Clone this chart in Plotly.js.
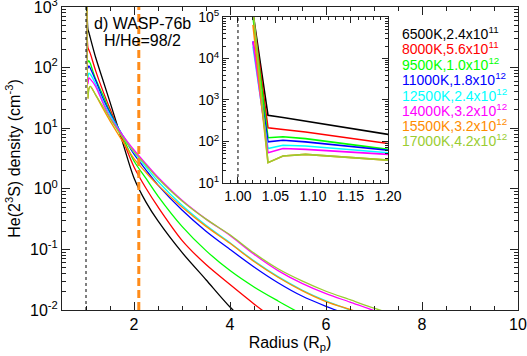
<!DOCTYPE html>
<html><head><meta charset="utf-8">
<script src="https://cdn.plot.ly/plotly-3.0.1.min.js"></script>
<style>html,body{margin:0;padding:0;background:#fff}#chart{width:527px;height:356px}</style>
</head><body><div id="chart"></div>
<script>
// Radius grid (R_p)
const radius = [1.02, 1.04, 1.06, 1.09, 1.2, 1.35, 1.5, 1.75, 2.0, 2.25, 2.5, 3.0, 3.5, 4.0, 4.5, 5.0, 5.5, 6.0, 6.5, 7.0, 7.5];

// He(2^3S) density (cm^-3) per model
const n6500  = [126000, 427, 380, 309, 148, 63.1, 26.9, 6.31, 1.51, 0.603, 0.295, 0.0891, 0.0316, 0.0112, 0.00468, 0.0020];
const n8000  = [112000, 214, 195, 170, 89.1, 41.7, 20.9, 6.92, 2.29, 1.02, 0.501, 0.141, 0.0562, 0.0263, 0.0126, 0.00631];
const n9500  = [100000, 123, 130, 117, 64.6, 35.5, 18.6, 7.59, 2.88, 1.48, 0.759, 0.240, 0.0955, 0.0447, 0.0240, 0.0141, 0.00851];
const n11000 = [25700, 97.7, 107, 97.7, 61.7, 31.6, 17.8, 7.94, 3.72, 2.04, 1.15, 0.447, 0.200, 0.100, 0.0513, 0.0282, 0.0170, 0.0115, 0.00813];
const n12500 = [19500, 67.6, 81.3, 77.6, 53.7, 28.2, 16.6, 7.94, 3.98, 2.29, 1.32, 0.537, 0.251, 0.129, 0.0646, 0.0355, 0.0214, 0.0141, 0.0100, 0.00724];
const n14000 = [25700, 53.7, 67.6, 64.6, 49.0, 26.3, 15.1, 7.94, 4.37, 2.57, 1.55, 0.646, 0.316, 0.170, 0.0832, 0.0447, 0.0275, 0.0186, 0.0135, 0.00977, 0.00724];
const n15500 = [64600, 30.9, 44.7, 49.0, 35.5, 21.4, 13.2, 6.31, 3.16, 1.86, 1.15, 0.501, 0.240, 0.126, 0.0631, 0.0347, 0.0209, 0.0138, 0.0102, 0.00759];
const n17000 = [158000, 30.9, 44.7, 49.0, 35.5, 22.9, 14.5, 7.24, 4.07, 2.45, 1.48, 0.631, 0.316, 0.174, 0.0871, 0.0479, 0.0302, 0.0204, 0.0148, 0.0107, 0.00813];

const series = [n6500, n8000, n9500, n11000, n12500, n14000, n15500, n17000];
const temps = ['6500K', '8000K', '9500K', '11000K', '12500K', '14000K', '15500K', '17000K'];
const fluxMant = ['2.4', '5.6', '1.0', '1.8', '2.4', '3.2', '3.2', '4.2'];
const fluxExp = ['11', '11', '12', '12', '12', '12', '12', '12'];
const colors = ['#000000', '#ff0000', '#00ff00', '#0000ff', '#00ffff', '#ff00ff', '#ff8c00', '#9acd32'];

const planetRadius = 1.0;
const markerRadius = 2.1;

const mainXTicks = [2, 4, 6, 8, 10];
const mainYTicks = [0.01, 0.1, 1, 10, 100, 1000];
const mainYText = ['10<sup>-2</sup>', '10<sup>-1</sup>', '10<sup>0</sup>', '10<sup>1</sup>', '10<sup>2</sup>', '10<sup>3</sup>'];
const insetXTicks = [1.00, 1.05, 1.10, 1.15, 1.20];
const insetXText = ['1.00', '1.05', '1.10', '1.15', '1.20'];
const insetYTicks = [10, 100, 1000, 10000, 100000];
const insetYText = ['10<sup>1</sup>', '10<sup>2</sup>', '10<sup>3</sup>', '10<sup>4</sup>', '10<sup>5</sup>'];

function minorLog(lo, hi) {
  const v = [];
  for (let e = lo; e < hi; e++) for (let m = 2; m <= 9; m++) v.push(m * Math.pow(10, e));
  return v;
}

const traces = [];
series.forEach((s, i) => {
  traces.push({x: radius.slice(0, s.length), y: s, type: 'scatter', mode: 'lines',
    line: {color: colors[i], width: 1.3, shape: 'spline', smoothing: 0.8}, xaxis: 'x', yaxis: 'y', showlegend: false, hoverinfo: 'skip'});
});
series.forEach((s, i) => {
  traces.push({x: radius.slice(0, s.length), y: s, type: 'scatter', mode: 'lines',
    line: {color: colors[i], width: 1.6}, xaxis: 'x2', yaxis: 'y2', showlegend: false, hoverinfo: 'skip'});
});

const F = 'Liberation Sans, Arial, Helvetica, sans-serif';
const axCommon = {showline: true, linecolor: '#222', linewidth: 1, mirror: 'ticks', ticks: 'inside',
  tickcolor: '#222', showgrid: false, zeroline: false, ticklabeloverflow: 'allow',
  tickfont: {family: F, size: 16, color: '#000'}};

const ann = [
  {text: 'd) WASP-76b', x: 0.1765, y: 0.947, xref: 'paper', yref: 'paper', xanchor: 'center', yanchor: 'middle', showarrow: false, font: {family: F, size: 16, color: '#000'}},
  {text: 'H/He=98/2', x: 0.1765, y: 0.891, xref: 'paper', yref: 'paper', xanchor: 'center', yanchor: 'middle', showarrow: false, font: {family: F, size: 16, color: '#000'}}
];
const legY = [0.914, 0.865, 0.812, 0.762, 0.710, 0.660, 0.611, 0.561];
temps.forEach((t, i) => {
  ann.push({text: t + ',' + fluxMant[i] + 'x10<sup>' + fluxExp[i] + '</sup>', x: 0.741, y: legY[i],
    xref: 'paper', yref: 'paper', xanchor: 'left', yanchor: 'middle', showarrow: false,
    font: {family: F, size: 14, color: colors[i]}});
});

const layout = {
  width: 527, height: 356,
  margin: {l: 62, r: 9, t: 7, b: 46},
  paper_bgcolor: '#fff', plot_bgcolor: '#fff',
  font: {family: F, color: '#000'},
  xaxis: Object.assign({}, axCommon, {range: [0.5, 10], tickmode: 'array', tickvals: mainXTicks, ticklen: 8,
    minor: {tickmode: 'linear', tick0: 0, dtick: 0.5, ticks: 'inside', ticklen: 4, tickcolor: '#222'},
    title: {text: 'Radius (R<sub>p</sub>)', font: {family: F, size: 16}, standoff: 4}, domain: [0, 1], anchor: 'y'}),
  yaxis: Object.assign({}, axCommon, {type: 'log', range: [-2, 3], tickmode: 'array', tickvals: mainYTicks, ticktext: mainYText, ticklen: 8,
    minor: {tickmode: 'array', tickvals: minorLog(-2, 3), ticks: 'inside', ticklen: 4, tickcolor: '#222'},
    title: {text: 'He(2<sup>3</sup>S) density (cm<sup>-3</sup>)', font: {family: F, size: 16}}, domain: [0, 1], anchor: 'x'}),
  xaxis2: Object.assign({}, axCommon, {range: [0.98, 1.2], tickmode: 'array', tickvals: insetXTicks, ticktext: insetXText, ticklen: 6,
    tickfont: {family: F, size: 14, color: '#000'},
    minor: {tickmode: 'linear', tick0: 0, dtick: 0.01, ticks: 'inside', ticklen: 3, tickcolor: '#222'},
    domain: [0.353, 0.715], anchor: 'y2'}),
  yaxis2: Object.assign({}, axCommon, {type: 'log', range: [0.999, 5], tickmode: 'array', tickvals: insetYTicks, ticktext: insetYText, ticklen: 6,
    tickfont: {family: F, size: 14, color: '#000'},
    minor: {tickmode: 'array', tickvals: minorLog(1, 5), ticks: 'inside', ticklen: 3, tickcolor: '#222'},
    domain: [0.419, 0.967], anchor: 'x2'}),
  shapes: [
    {type: 'line', xref: 'x', yref: 'y domain', x0: planetRadius, x1: planetRadius, y0: 0, y1: 1, line: {color: '#000', width: 1, dash: 'dot'}},
    {type: 'line', xref: 'x2', yref: 'y2 domain', x0: planetRadius, x1: planetRadius, y0: 0, y1: 1, line: {color: '#000', width: 1, dash: 'dot'}},
    {type: 'line', xref: 'x', yref: 'y domain', x0: markerRadius, x1: markerRadius, y0: 0, y1: 1, line: {color: '#ff8c1a', width: 3, dash: '8px,4px'}}
  ],
  annotations: ann
};

Plotly.newPlot('chart', traces, layout, {staticPlot: true, displayModeBar: false});
</script></body></html>
